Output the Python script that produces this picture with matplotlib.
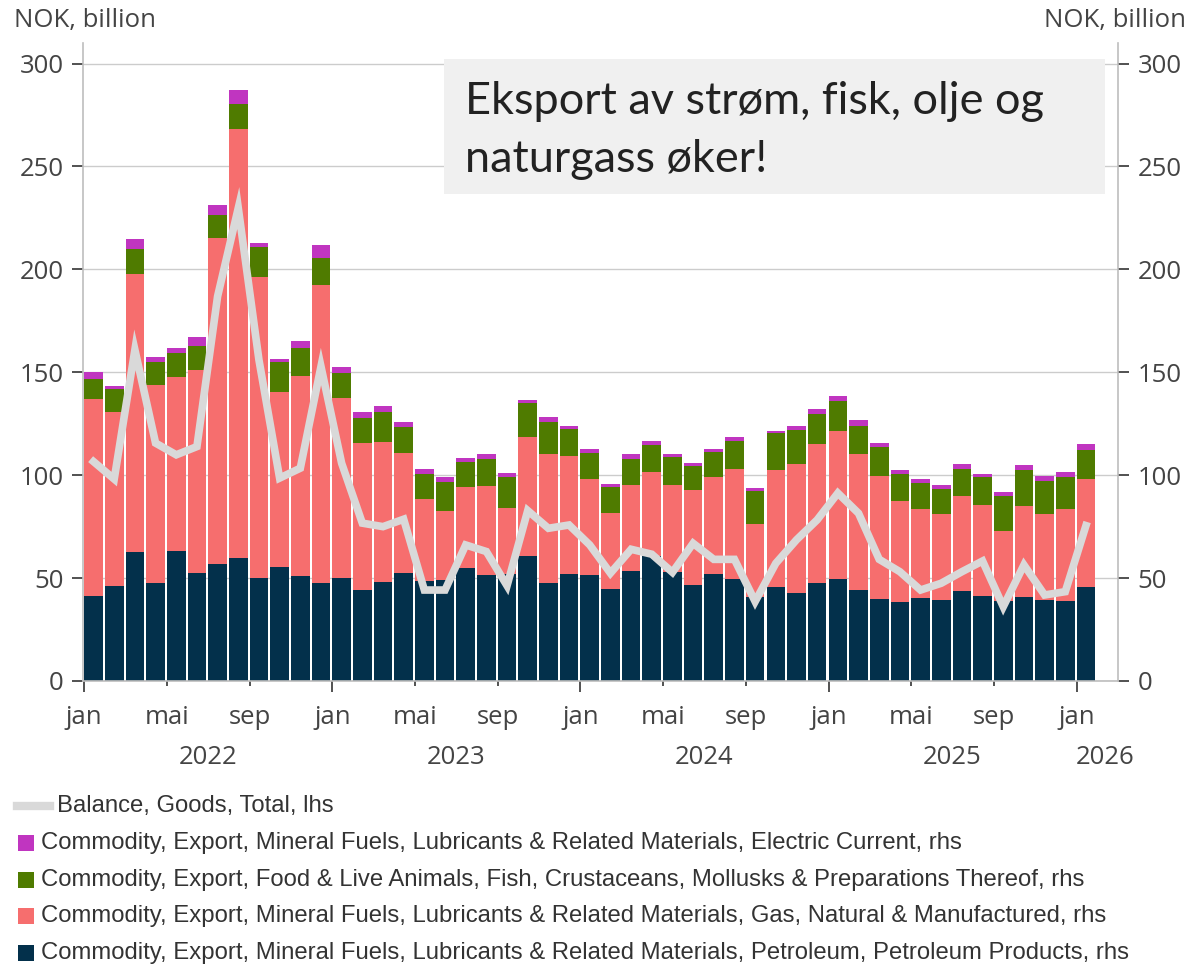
import matplotlib
matplotlib.use('Agg')
import matplotlib.pyplot as plt
from matplotlib.patches import Rectangle
from matplotlib.lines import Line2D
from matplotlib.transforms import blended_transform_factory
import numpy as np

# ---- data (NOK billion), monthly jan 2022 .. jan 2026 ----
month_labels = ['jan', 'mai', 'sep']
year_labels = ['2022', '2023', '2024', '2025', '2026']

petroleum = [41.3, 46.2, 62.9, 47.5, 63.4, 52.3, 56.7, 59.6, 49.9, 55.6, 51.2, 47.5,
             49.9, 44.2, 48.3, 52.7, 48.6, 49.1, 55.1, 51.5, 52.0, 60.8, 47.8, 52.2,
             51.4, 44.9, 53.3, 60.8, 52.8, 46.5, 52.0, 49.6, 41.0, 45.7, 42.8, 47.6,
             49.8, 44.4, 39.9, 38.3, 40.4, 39.2, 43.8, 41.2, 39.0, 41.0, 39.4, 38.8,
             45.9]
gas = [95.5, 84.4, 134.8, 96.4, 84.4, 98.6, 158.7, 208.8, 146.5, 84.8, 97.1, 145.0,
       87.7, 71.5, 67.6, 58.0, 39.7, 33.6, 39.4, 43.2, 32.1, 57.7, 62.4, 57.2,
       46.8, 36.6, 41.8, 40.8, 42.3, 46.4, 47.0, 53.5, 35.5, 56.7, 62.7, 67.6,
       71.6, 65.8, 59.8, 49.2, 43.1, 41.8, 46.1, 44.2, 34.1, 44.2, 41.8, 44.7,
       52.3]
fish = [9.9, 11.1, 12.2, 11.1, 11.7, 11.8, 11.0, 12.1, 14.3, 14.4, 13.4, 13.0,
        12.0, 12.3, 15.0, 12.5, 12.3, 14.2, 11.8, 13.2, 14.9, 16.8, 15.6, 13.0,
        12.5, 12.7, 13.0, 13.3, 13.5, 11.5, 12.2, 13.7, 15.7, 17.9, 16.7, 14.6,
        14.6, 13.5, 14.2, 13.3, 12.9, 12.5, 13.0, 13.5, 17.0, 17.5, 15.9, 15.4,
        14.0]
electric = [3.2, 1.7, 4.9, 2.4, 2.2, 4.4, 5.0, 6.9, 2.3, 1.9, 3.6, 6.5,
            2.9, 2.9, 2.8, 2.7, 2.2, 2.4, 2.1, 2.5, 2.0, 1.3, 2.4, 1.6,
            2.0, 1.6, 2.1, 1.8, 1.6, 1.6, 1.6, 1.8, 1.6, 1.3, 1.8, 2.3,
            2.7, 3.2, 1.8, 1.8, 1.8, 1.6, 2.6, 1.9, 1.8, 2.2, 2.6, 2.6,
            3.0]
balance = [106.6, 98.1, 160.9, 115.6, 109.9, 113.9, 186.9, 229.8, 156.0, 98.6, 103.4, 152.8,
           105.8, 76.7, 75.0, 78.6, 44.2, 44.2, 66.1, 62.9, 46.3, 82.8, 74.2, 75.8,
           66.1, 52.4, 64.0, 61.6, 52.8, 66.9, 59.1, 59.1, 38.6, 57.2, 68.6, 78.3,
           91.3, 81.5, 59.1, 53.1, 44.2, 47.5, 53.1, 58.3, 36.1, 56.4, 41.8, 43.4,
           75.5]

legend_labels = [
    'Balance, Goods, Total, lhs',
    'Commodity, Export, Mineral Fuels, Lubricants & Related Materials, Electric Current, rhs',
    'Commodity, Export, Food & Live Animals, Fish, Crustaceans, Mollusks & Preparations Thereof, rhs',
    'Commodity, Export, Mineral Fuels, Lubricants & Related Materials, Gas, Natural & Manufactured, rhs',
    'Commodity, Export, Mineral Fuels, Lubricants & Related Materials, Petroleum, Petroleum Products, rhs',
]
title_lines = ['Eksport av strøm, fisk, olje og', 'naturgass øker!']

# ---- style ----
C_NAVY = '#03304b'
C_RED = '#f66e6e'
C_GREEN = '#4f7b00'
C_PURPLE = '#c035c0'
C_LINE = '#d9d9d9'
C_TXT = '#444444'
TICKFONT = 'Open Sans'
FS = 18.5

W, H = 1191, 965
fig = plt.figure(figsize=(W / 100, H / 100), dpi=100)
ax_l, ax_r, ax_b, ax_t = 83, 1118, 681, 43
ax = fig.add_axes([ax_l / W, 1 - ax_b / H, (ax_r - ax_l) / W, (ax_b - ax_t) / H])
ax2 = ax.twinx()
ax.set_zorder(ax2.get_zorder() + 1)
ax.patch.set_visible(False)

n = len(petroleum)
x = np.arange(n)
bw = 0.9
pet = np.array(petroleum)
gs = np.array(gas)
fs = np.array(fish)
el = np.array(electric)
ax2.bar(x, pet, width=bw, align='edge', color=C_NAVY, zorder=2)
ax2.bar(x, gs, width=bw, align='edge', bottom=pet, color=C_RED, zorder=2)
ax2.bar(x, fs, width=bw, align='edge', bottom=pet + gs, color=C_GREEN, zorder=2)
ax2.bar(x, el, width=bw, align='edge', bottom=pet + gs + fs, color=C_PURPLE, zorder=2)

ax.plot(x + bw / 2, balance, color=C_LINE, lw=5.5, solid_joinstyle='miter', zorder=3)

for a in (ax, ax2):
    a.set_ylim(0, 310)
    a.set_yticks(np.arange(0, 301, 50))
    a.set_xlim(-0.06, 50.0)
ax2.yaxis.grid(True, color='#cccccc', lw=1, zorder=0)
ax2.set_axisbelow(True)

ax.tick_params(axis='y', length=8, width=1.2, color='#333333', pad=6,
               labelsize=FS, labelcolor=C_TXT)
ax2.tick_params(axis='y', length=8, width=1.2, color='#333333', pad=6,
                labelsize=FS, labelcolor=C_TXT)
for lab in ax.get_yticklabels() + ax2.get_yticklabels():
    lab.set_family(TICKFONT)

jan_pos = np.arange(0, n, 12)
other_pos = [p for p in range(0, n, 4) if p % 12 != 0]
ax.set_xticks(jan_pos)
ax.set_xticklabels([month_labels[0]] * len(jan_pos))
ax.set_xticks(other_pos, minor=True)
ax.set_xticklabels([month_labels[(p % 12) // 4] for p in other_pos], minor=True)
ax.tick_params(axis='x', which='major', length=8, width=1.2, color='#333333',
               pad=9.5, labelsize=FS, labelcolor=C_TXT)
ax.tick_params(axis='x', which='minor', length=3.5, width=1.2, color='#333333',
               pad=14, labelsize=FS, labelcolor=C_TXT)
for lab in ax.get_xticklabels() + ax.get_xticklabels(minor=True):
    lab.set_family(TICKFONT)
ax2.tick_params(axis='x', which='both', bottom=False, labelbottom=False)

trans = blended_transform_factory(ax.transData, ax.transAxes)
year_x = [6.0, 18.0, 30.0, 42.0, 49.4]
for yx, yl in zip(year_x, year_labels):
    ax.text(yx, -0.120, yl, transform=trans, ha='center', va='center',
            fontsize=FS, color=C_TXT, family=TICKFONT)

for a in (ax, ax2):
    a.spines['top'].set_visible(False)
    for s in ('left', 'right', 'bottom'):
        a.spines[s].set_color('#bdbdbd')
        a.spines[s].set_linewidth(1.2)
ax2.spines['left'].set_visible(False)
ax2.spines['bottom'].set_visible(False)
ax.spines['right'].set_visible(False)

fig.text(14 / W, 1 - 21 / H, 'NOK, billion', ha='left', va='center',
         fontsize=FS, color=C_TXT, family=TICKFONT)
fig.text(1186 / W, 1 - 21 / H, 'NOK, billion', ha='right', va='center',
         fontsize=FS, color=C_TXT, family=TICKFONT)

# title box
fig.patches.append(Rectangle((444 / W, 1 - 194 / H), (1105 - 444) / W, (194 - 59) / H,
                             transform=fig.transFigure, facecolor='#f0f0f0',
                             edgecolor='none', zorder=5))
fig.text(465 / W, 1 - 114 / H, title_lines[0], ha='left', va='baseline',
         fontsize=32.5, color='#222222', family='Lato', zorder=6)
fig.text(465 / W, 1 - 172 / H, title_lines[1], ha='left', va='baseline',
         fontsize=32.5, color='#222222', family='Lato', zorder=6)

# legend
LFS = 17.2
row_y = [806, 843, 880, 916, 953]
fig.add_artist(Line2D([17 / W, 50 / W], [1 - row_y[0] / H] * 2, color=C_LINE, lw=6,
                      transform=fig.transFigure))
fig.text(57 / W, 1 - row_y[0] / H, legend_labels[0], ha='left', va='center',
         fontsize=LFS, color='#333333', family='Liberation Sans')
for yy, col, lab in zip(row_y[1:], [C_PURPLE, C_GREEN, C_RED, C_NAVY], legend_labels[1:]):
    fig.patches.append(Rectangle((18 / W, 1 - (yy + 8) / H), 16 / W, 16 / H,
                                 transform=fig.transFigure, facecolor=col,
                                 edgecolor='none'))
    fig.text(41 / W, 1 - yy / H, lab, ha='left', va='center',
             fontsize=LFS, color='#333333', family='Liberation Sans')

fig.savefig('out.png', dpi=100)
